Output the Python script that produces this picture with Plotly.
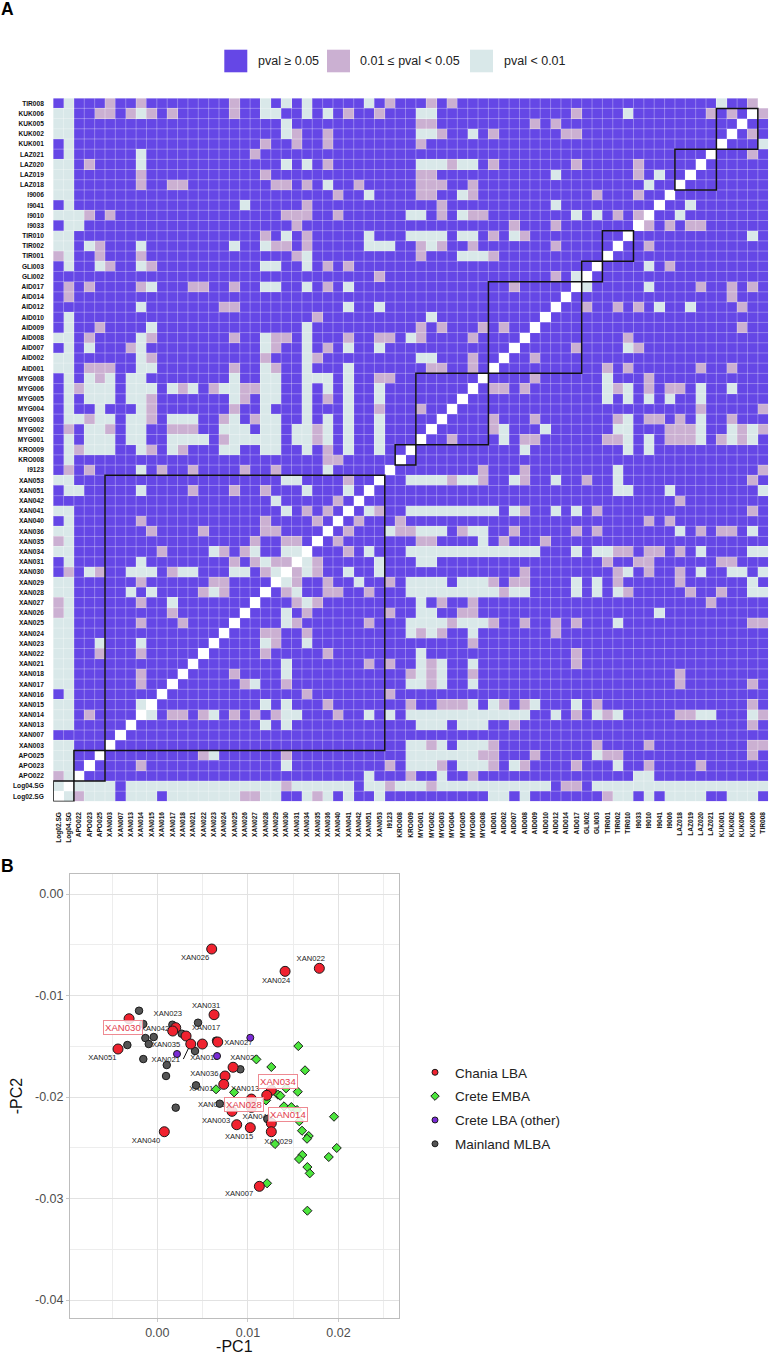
import plotly.graph_objects as go

FONT = "Liberation Sans"
W, H = 770, 1355

samples = ["Log02.SG","Log04.SG","APO022","APO023","APO025","XAN003","XAN007","XAN013","XAN014","XAN015",
           "XAN016","XAN017","XAN018","XAN021","XAN022","XAN023","XAN024","XAN025","XAN026","XAN027",
           "XAN028","XAN029","XAN030","XAN031","XAN034","XAN035","XAN036","XAN040","XAN041","XAN042",
           "XAN051","XAN053","I9123","KRO008","KRO009","MYG001","MYG002","MYG003","MYG004","MYG005",
           "MYG006","MYG008","AID001","AID002","AID007","AID008","AID009","AID010","AID012","AID014",
           "AID017","GLI002","GLI003","TIR001","TIR002","TIR010","I9033","I9010","I9041","I9006",
           "LAZ018","LAZ019","LAZ020","LAZ021","KUK001","KUK002","KUK005","KUK006","TIR008"]

# row index -> column indices (the matrix is symmetric, so only the part left of the diagonal)
pink_cells = {
 68:[5,8,17,32,36,38,67], 67:[4,5,7,9,11,17,28,31,50,63,65], 66:[35,36,46,48], 65:[23,26,37,42,49,50],
 64:[20,23,26,35], 63:[19], 62:[3,26,38,42,50,56], 61:[8,20,35,36,56], 60:[8,11,12,21,22,24,29,35,36,37,40],
 59:[27,35,36,40,52,56], 58:[24,37], 57:[3,5,22,23,24,27,37,40,41,54,56], 56:[23,44,48], 55:[20,24,42,45],
 54:[4,21,22,24,35,37,40,48], 53:[0,4,8,23,35,42], 52:[5,9,26,28], 51:[31,48], 50:[1,3,8,13,14,17,26,44],
 49:[1], 48:[16,17], 47:[25], 46:[4,35,37,41,43], 45:[3,9,17,21,22,28,31,32,35,40], 44:[7,21,26],
 43:[9,20,25,40], 42:[3,4,5,17,21,36,37,40], 41:[4,31,32], 40:[2,12,15,18,19], 39:[9,18,26],
 38:[9,17,31,35], 37:[3,9,16,19], 36:[1,5,11,12,13,25], 35:[16,25], 34:[2,9,12,26], 33:[26,27],
 32:[1,3,10,13,18,21], 31:[28], 30:[13,17,20], 29:[27], 28:[24,26], 27:[8,20,25], 26:[9,14,20,21],
 25:[0,19,22,23], 24:[10,16,18], 23:[17,19,21,22], 22:[1,4,11,20], 21:[8,15,16], 20:[14,16], 19:[0,8],
 18:[0,11], 17:[8,12], 14:[4,8], 12:[8], 11:[8], 8:[3], 2:[0],
}
light_cells = {
 68:[1,20,22,24,30,64], 67:[0,1,8,20,21,24,26,35,36,55], 66:[0,1,22], 65:[0,1,22,35,36,40], 64:[1], 63:[1,8],
 62:[0,1,8,22,24,35,36,37,39,40], 61:[0,1,48,58], 60:[0,1,26,57], 59:[0,1,30,39], 58:[1,18,48],
 57:[0,1,2,34,35,39,50,52], 56:[1,2], 55:[0,1,22,30,34,35,36,37,39,40,44], 54:[0,1,3,8,17,20,30,31,32,36],
 53:[1,24,39,40,41], 52:[1,4,8,20,21,24], 51:[50], 50:[9,20,21,24,28], 48:[8,28,31], 47:[1,36], 46:[1,9,24],
 45:[0,1,8,20,24,34], 44:[1,3,8,20,24,28,31], 43:[0,1,8,24,35,36], 42:[0,1,8,9,20,24,28],
 41:[1,3,5,7,8,17,20,21,24,25,26,28], 40:[1,3,4,5,7,8,9,11,13,16,17,20,21,24,26,28,31],
 39:[1,3,4,5,7,8,17,20,21,24,28,31], 38:[1,4,8,20,24,28], 37:[1,2,4,5,7,8,11,12,13,17,20,21,24,26,28,31],
 36:[3,4,7,8,16,17,18,20,21,23,24,26,28,31], 35:[1,3,4,5,7,8,11,12,13,14,17,18,19,20,21,23,24,26,28,31],
 34:[1,3,4,5,8,11,16,17,20,21,24,28,31], 33:[1], 32:[8,26], 31:[0,1,22,23], 30:[1,2,8,24,28], 29:[21],
 28:[0,1,22], 27:[1], 26:[0,1], 25:[1], 24:[0,1,15,19,22,23], 23:[1,8,20], 22:[3,7,8,9,12,13,17,18,21],
 21:[0,1], 20:[0,1,7,9,15], 19:[1,11], 18:[1], 17:[0,1], 16:[0,1], 15:[0,1,4,8], 14:[0,1], 13:[0,1],
 12:[0,1], 11:[0,1], 10:[1], 9:[0,1,8], 8:[0,1], 7:[0,1], 5:[0,1], 4:[0,1], 3:[0,1], 2:[1], 1:[0],
}
block_groups = [("Log02.SG","Log04.SG"),("APO022","APO025"),("XAN003","XAN053"),("KRO008","KRO009"),
                ("MYG001","MYG008"),("AID001","AID017"),("GLI002","GLI003"),("TIR001","TIR010"),
                ("LAZ018","LAZ021"),("KUK001","KUK006")]

pval_labels = ["pval ≥ 0.05", "0.01 ≤ pval < 0.05", "pval < 0.01"]
pval_colors = ["#6547E6", "#CBB0D2", "#D9E8E9"]

chania_x = [0.0060,0.01788,0.0141,0.00626,-0.00312,0.00203,0.0017,0.00317,0.00369,0.00497,0.00667,-0.00434,0.00836,
            0.00747,0.00733,0.01258,0.01208,0.01038,0.01038,0.00824,0.01258,0.01258,0.00876,0.01026,0.00077,0.01126]
chania_y = [-0.00542,-0.00732,-0.00762,-0.01189,-0.01229,-0.01317,-0.0135,-0.01399,-0.01478,-0.01478,-0.01458,-0.01527,-0.01707,
            -0.01793,-0.01875,-0.01934,-0.01983,-0.0202,-0.02102,-0.02141,-0.02259,-0.02342,-0.02273,-0.02302,-0.02342,-0.0288]
emba_x = [0.01556,0.01093,0.01258,0.0163,0.00648,0.00847,0.01421,0.0155,0.01332,0.01358,0.01398,0.01479,0.01542,0.0195,
          0.01567,0.01597,0.01671,0.01652,0.01299,0.0198,0.01892,0.016,0.01564,0.01656,0.01682,0.01211,0.01656,0.012]
emba_y = [-0.01498,-0.01629,-0.01704,-0.01737,-0.01924,-0.01954,-0.01914,-0.01948,-0.01977,-0.01987,-0.02092,-0.02099,-0.02128,-0.02194,
          -0.02239,-0.02332,-0.02384,-0.02411,-0.02463,-0.02502,-0.02591,-0.02571,-0.02611,-0.0269,-0.02752,-0.0285,-0.0312,-0.02033]
other_x = [0.01026,0.00217,0.00659]
other_y = [-0.01416,-0.01576,-0.01596]
mainland_x = [-0.00202,-0.00155,0.00166,0.00449,-0.00132,-0.0004,-0.00095,-0.00331,0.00269,0.00416,-0.00155,0.00104,0.00096,
              0.00203,0.00427,0.00689,0.00916,0.00648,0.01214]
mainland_y = [-0.0115,-0.01281,-0.01288,-0.01268,-0.01419,-0.01409,-0.01478,-0.01488,-0.01376,-0.01547,-0.01626,-0.01685,-0.01793,
              -0.02105,-0.01885,-0.02066,-0.01727,-0.01445,-0.02217]

label_names = ["XAN026","XAN022","XAN024","XAN031","XAN023","XAN042","XAN017","XAN035","XAN027","XAN021","XAN018","XAN025",
               "XAN036","XAN013","XAN016","XAN053","XAN003","XAN041","XAN015","XAN029","XAN040","XAN007","XAN051"]
label_x = [0.00416,0.01693,0.0131,0.00538,0.00115,-0.00025,0.00538,0.00096,0.00894,0.00093,0.00519,0.0096,
           0.00519,0.00968,0.00508,0.00604,0.00648,0.01097,0.00902,0.01336,-0.00125,0.00902,-0.00607]
label_y = [-0.00634,-0.00644,-0.00854,-0.011,-0.01182,-0.01333,-0.01317,-0.01485,-0.01468,-0.01638,-0.01619,-0.01619,
           -0.01773,-0.01924,-0.01924,-0.02079,-0.02239,-0.022,-0.02397,-0.0244,-0.02437,-0.02956,-0.01619]
boxed_names = ["XAN030","XAN034","XAN028","XAN014"]
boxed_x = [-0.00382,0.01336,0.00957,0.01446]
boxed_y = [-0.0132,-0.01849,-0.02076,-0.02177]
leader_x = [0.00287,0.00361]
leader_y = [-0.01626,-0.01488]

x_ticks = [0.0, 0.01, 0.02]
x_ticktext = ["0.00", "0.01", "0.02"]
y_ticks = [0.0, -0.01, -0.02, -0.03, -0.04]
y_ticktext = ["0.00", "-0.01", "-0.02", "-0.03", "-0.04"]

n = len(samples)
z = [[0] * n for _ in range(n)]
for code, table in ((1, pink_cells), (2, light_cells)):
    for r, cols in table.items():
        for c in cols:
            z[r][c] = code
            z[c][r] = code
for i in range(n):
    z[i][i] = 3

def px_x(p): return p / W
def px_y(p): return 1 - p / H

fig = go.Figure()
fig.add_trace(go.Heatmap(
    z=z, x=samples, y=samples, showscale=False, hoverinfo="skip",
    zmin=0, zmax=3,
    colorscale=[[0, pval_colors[0]], [0.25, pval_colors[0]], [0.25, pval_colors[1]], [0.5, pval_colors[1]],
                [0.5, pval_colors[2]], [0.75, pval_colors[2]], [0.75, "#FFFFFF"], [1, "#FFFFFF"]],
    xaxis="x", yaxis="y"))

# PCA panel: labels first so that markers cover them
fig.add_trace(go.Scatter(x=label_x, y=label_y, text=label_names, mode="text", xaxis="x2", yaxis="y2",
                         textfont=dict(family=FONT, size=7.6, color="#222222"), showlegend=False, hoverinfo="skip"))
fig.add_trace(go.Scatter(x=leader_x, y=leader_y, mode="lines", xaxis="x2", yaxis="y2",
                         line=dict(color="#111111", width=1), showlegend=False, hoverinfo="skip"))
groups = [
    ("Crete EMBA", emba_x, emba_y, "#4CE63C", "diamond", 7, 6.5),
    ("Mainland MLBA", mainland_x, mainland_y, "#545454", "circle", 7.5, 6),
    ("Crete LBA (other)", other_x, other_y, "#7A2BD6", "circle", 7, 6),
    ("Chania LBA", chania_x, chania_y, "#F0222F", "circle", 10, 6),
]
for name, xs, ys, col, sym, size, _ in groups:
    fig.add_trace(go.Scatter(x=xs, y=ys, mode="markers", xaxis="x2", yaxis="y2", showlegend=False, name=name,
                             marker=dict(color=col, symbol=sym, size=size, line=dict(color="#1a1a1a", width=1))))
# legend keys (smaller than the plotted points)
for i, name in enumerate(["Chania LBA", "Crete EMBA", "Crete LBA (other)", "Mainland MLBA"]):
    g = next(t for t in groups if t[0] == name)
    fig.add_trace(go.Scatter(x=[None], y=[None], mode="markers", xaxis="x2", yaxis="y2", name=name,
                             legendgroup=name, legendrank=i + 1,
                             marker=dict(color=g[3], symbol=g[4], size=g[6], line=dict(color="#1a1a1a", width=1))))

shapes = []
# thin cell borders of the heatmap
for k in range(1, n):
    for ax0 in ("x", "y"):
        vert = ax0 == "x"
        shapes.append(dict(type="line", xref="x", yref="y",
                           x0=k - 0.5 if vert else -0.5, x1=k - 0.5 if vert else n - 0.5,
                           y0=-0.5 if vert else k - 0.5, y1=n - 0.5 if vert else k - 0.5,
                           line=dict(color="rgba(255,255,255,0.45)", width=0.7)))
for a, b in block_groups:
    i0, i1 = samples.index(a) - 0.5, samples.index(b) + 0.5
    shapes.append(dict(type="rect", xref="x", yref="y", x0=i0, x1=i1, y0=i0, y1=i1,
                       line=dict(color="#111111", width=1.5), fillcolor="rgba(0,0,0,0)"))
annotations = []
swatch_left = [224.3, 327, 470]
text_left = [256, 358.3, 501.7]
for sx, tx, lab, col in zip(swatch_left, text_left, pval_labels, pval_colors):
    shapes.append(dict(type="rect", xref="paper", yref="paper", x0=px_x(sx), x1=px_x(sx + 23),
                       y0=px_y(72.3), y1=px_y(49.7), fillcolor=col, line=dict(width=0)))
    annotations.append(dict(xref="paper", yref="paper", x=px_x(tx), y=px_y(61), text=lab, showarrow=False,
                            xanchor="left", yanchor="middle", font=dict(family=FONT, size=12.5, color="#222222")))
for t, x, y in (("A", 7, 9), ("B", 7, 866)):
    annotations.append(dict(xref="paper", yref="paper", x=px_x(x), y=px_y(y), text=f"<b>{t}</b>", showarrow=False,
                            xanchor="center", yanchor="middle", font=dict(family=FONT, size=17.5, color="#000000")))
for name, x, y in zip(boxed_names, boxed_x, boxed_y):
    annotations.append(dict(xref="x2", yref="y2", x=x, y=y, text=name, showarrow=False,
                            font=dict(family=FONT, size=9.6, color="#E23A4C"), bgcolor="rgba(255,255,255,0.85)",
                            bordercolor="#EE8A92", borderwidth=1, borderpad=1))

fig.update_layout(
    width=W, height=H, margin=dict(l=0, r=0, t=0, b=0), paper_bgcolor="white", plot_bgcolor="white",
    font=dict(family=FONT), shapes=shapes, annotations=annotations,
    xaxis=dict(domain=[px_x(53.2), px_x(768.2)], anchor="y", type="category", range=[-0.5, n - 0.5], tickangle=-90,
               tickfont=dict(family=FONT, size=6.6, color="#111111", weight="bold"), showgrid=False, zeroline=False,
               ticks="outside", ticklen=7, tickcolor="rgba(0,0,0,0)", tickmode="array",
               tickvals=samples, ticktext=samples, automargin=False),
    yaxis=dict(domain=[px_y(801.4), px_y(98.2)], anchor="x", type="category", range=[-0.5, n - 0.5],
               tickfont=dict(family=FONT, size=6.6, color="#111111", weight="bold"), showgrid=False, zeroline=False,
               ticks="outside", ticklen=7, tickcolor="rgba(0,0,0,0)", tickmode="array",
               tickvals=samples, ticktext=samples, automargin=False),
    xaxis2=dict(domain=[px_x(70), px_x(398.7)], anchor="y2", range=[-0.00964, 0.02664], tickmode="array",
                tickvals=x_ticks, ticktext=x_ticktext, tickfont=dict(family=FONT, size=12.5, color="#4d4d4d"),
                showgrid=True, gridcolor="#E2E2E2", gridwidth=1, zeroline=False, showline=True, mirror=True,
                linecolor="#BDBDBD", linewidth=1, ticks="outside", ticklen=3, tickcolor="#C8C8C8",
                minor=dict(tickmode="array", tickvals=[-0.005, 0.005, 0.015, 0.025], showgrid=True, gridcolor="#EDEDED", gridwidth=1),
                title=dict(text="-PC1", font=dict(family=FONT, size=16, color="#111111"), standoff=5), automargin=False),
    yaxis2=dict(domain=[px_y(1318), px_y(874)], anchor="x2", range=[-0.04177, 0.00197], tickmode="array",
                tickvals=y_ticks, ticktext=y_ticktext, tickfont=dict(family=FONT, size=12.5, color="#4d4d4d"),
                showgrid=True, gridcolor="#E2E2E2", gridwidth=1, zeroline=False, showline=True, mirror=True,
                linecolor="#BDBDBD", linewidth=1, ticks="outside", ticklen=3, tickcolor="#C8C8C8",
                minor=dict(tickmode="array", tickvals=[-0.005, -0.015, -0.025, -0.035], showgrid=True, gridcolor="#EDEDED", gridwidth=1),
                title=dict(text="-PC2", font=dict(family=FONT, size=16, color="#111111"), standoff=8), automargin=False),
    legend=dict(x=px_x(415), y=px_y(1057), xanchor="left", yanchor="top", bgcolor="rgba(0,0,0,0)",
                font=dict(family=FONT, size=13.5, color="#222222"), tracegroupgap=3.3, itemsizing="trace"),
)
fig.write_html("out.html", config={"displayModeBar": False},
               post_script="document.body.style.margin='0';document.documentElement.style.overflow='hidden';")
